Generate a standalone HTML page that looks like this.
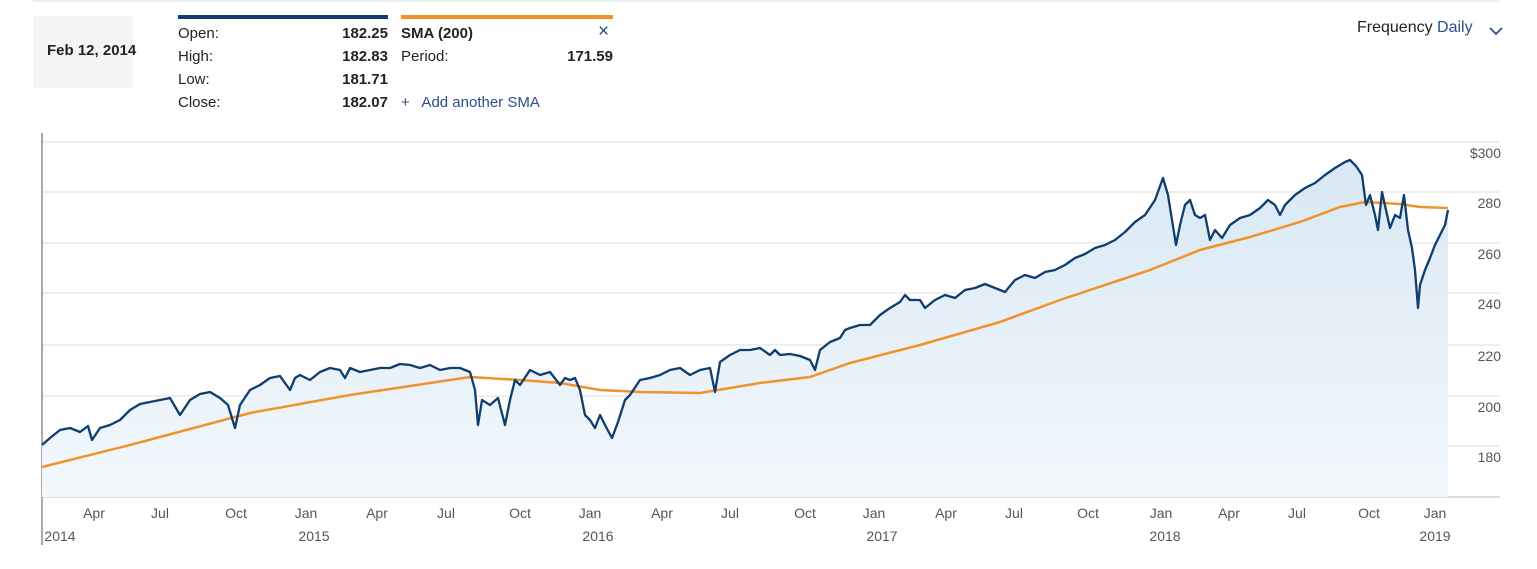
<!DOCTYPE html>
<html><head><style>
body{margin:0;width:1537px;height:569px;background:#fff;font-family:"Liberation Sans",sans-serif;position:relative;overflow:hidden;color:#222}
.a{position:absolute;font-size:15px}
</style></head><body>
<div style="position:absolute;left:33px;top:0;width:1467px;height:2px;background:#eee"></div>
<div style="position:absolute;left:33px;top:16px;width:100px;height:72px;background:#f4f4f4"></div>
<div class="a" style="left:47px;top:42px;font-weight:bold;font-size:15px">Feb 12, 2014</div>
<div style="position:absolute;left:178px;top:15px;width:210px;height:4px;background:#0f3d6e"></div>
<div style="position:absolute;left:401px;top:15px;width:212px;height:4px;background:#f0932b"></div>
<div class="a" style="left:178px;top:25px">Open:</div><div class="a" style="left:300px;width:88px;text-align:right;top:25px;font-weight:bold">182.25</div>
<div class="a" style="left:178px;top:48px">High:</div><div class="a" style="left:300px;width:88px;text-align:right;top:48px;font-weight:bold">182.83</div>
<div class="a" style="left:178px;top:71px">Low:</div><div class="a" style="left:300px;width:88px;text-align:right;top:71px;font-weight:bold">181.71</div>
<div class="a" style="left:178px;top:94px">Close:</div><div class="a" style="left:300px;width:88px;text-align:right;top:94px;font-weight:bold">182.07</div>
<div class="a" style="left:401px;top:25px;font-weight:bold">SMA (200)</div>
<div class="a" style="left:598px;top:21px;color:#2a4e8a;font-size:19px">×</div>
<div class="a" style="left:401px;top:48px">Period:</div><div class="a" style="left:520px;width:93px;text-align:right;top:48px;font-weight:bold">171.59</div>
<div class="a" style="left:401px;top:94px;color:#2a4e8a">+&nbsp;&nbsp; Add another SMA</div>
<div class="a" style="left:1357px;top:19px;font-size:16px">Frequency <span style="color:#2a4e8a">Daily</span></div>
<svg style="position:absolute;left:1488px;top:25px" width="16" height="12"><path d="M2 3 L8 9 L14 3" fill="none" stroke="#2a4e8a" stroke-width="1.8"/></svg>
<svg style="position:absolute;left:0;top:0" width="1537" height="569">
<defs><linearGradient id="g" x1="0" y1="0" x2="0" y2="1"><stop offset="0" stop-color="#d8e8f4"/><stop offset="1" stop-color="#f3f8fc"/></linearGradient></defs>
<g stroke="#e3e3e3" stroke-width="1.3">
<line x1="42" x2="1500" y1="142" y2="142"/><line x1="42" x2="1500" y1="192" y2="192"/><line x1="42" x2="1500" y1="243" y2="243"/><line x1="42" x2="1500" y1="293" y2="293"/><line x1="42" x2="1500" y1="345" y2="345"/><line x1="42" x2="1500" y1="396" y2="396"/><line x1="42" x2="1500" y1="446" y2="446"/></g>
<line x1="42" x2="1500" y1="497" y2="497" stroke="#bbb"/>
<line x1="42" x2="42" y1="133" y2="545" stroke="#555"/>
<g font-size="14" fill="#555" text-anchor="end" font-family="Liberation Sans,sans-serif">
<text x="1501" y="158">$300</text><text x="1501" y="208">280</text><text x="1501" y="259">260</text><text x="1501" y="309">240</text><text x="1501" y="361">220</text><text x="1501" y="412">200</text><text x="1501" y="462">180</text></g>
<g font-size="14" fill="#555" text-anchor="middle" font-family="Liberation Sans,sans-serif">
<text x="94" y="518">Apr</text><text x="160" y="518">Jul</text><text x="236" y="518">Oct</text><text x="306" y="518">Jan</text><text x="377" y="518">Apr</text><text x="446" y="518">Jul</text><text x="520" y="518">Oct</text><text x="590" y="518">Jan</text><text x="662" y="518">Apr</text><text x="730" y="518">Jul</text><text x="805" y="518">Oct</text><text x="874" y="518">Jan</text><text x="946" y="518">Apr</text><text x="1014" y="518">Jul</text><text x="1088" y="518">Oct</text><text x="1161" y="518">Jan</text><text x="1229" y="518">Apr</text><text x="1297" y="518">Jul</text><text x="1369" y="518">Oct</text><text x="1435" y="518">Jan</text>
<text x="60" y="541">2014</text><text x="314" y="541">2015</text><text x="598" y="541">2016</text><text x="882" y="541">2017</text><text x="1165" y="541">2018</text><text x="1435" y="541">2019</text></g>
<path id="p" fill="url(#g)" d="M42,497 L42,445 L50,438 L60,430 L70,428 L80,432 L88,426 L92,440 L100,428 L110,425 L120,420 L130,410 L140,404 L150,402 L160,400 L170,398 L180,415 L190,400 L200,394 L210,392 L220,398 L228,405 L235,428 L240,405 L250,390 L260,385 L270,378 L280,376 L290,390 L295,378 L300,375 L310,380 L320,372 L330,368 L340,370 L345,378 L350,368 L360,372 L370,370 L380,368 L390,368 L400,364 L410,365 L420,368 L430,365 L440,370 L450,368 L460,368 L470,372 L475,390 L478,425 L482,400 L490,405 L498,398 L505,425 L510,400 L515,380 L520,385 L530,370 L540,375 L550,372 L560,385 L565,378 L570,380 L575,378 L580,390 L585,415 L590,420 L595,428 L600,415 L605,425 L612,438 L618,422 L625,400 L630,395 L640,380 L650,378 L660,375 L670,370 L680,368 L690,375 L700,370 L710,368 L715,392 L720,362 L730,355 L740,350 L750,350 L760,348 L770,355 L775,350 L780,355 L790,354 L800,356 L810,360 L815,370 L820,350 L830,342 L840,338 L845,330 L850,328 L860,325 L870,325 L880,315 L890,308 L900,302 L905,295 L910,300 L920,300 L925,308 L935,300 L945,295 L955,298 L965,290 L975,288 L985,284 L995,288 L1005,292 L1015,280 L1025,275 L1035,278 L1045,272 L1055,270 L1065,265 L1075,258 L1085,254 L1095,248 L1105,245 L1115,240 L1125,232 L1135,222 L1145,215 L1155,200 L1163,178 L1168,195 L1172,220 L1176,245 L1180,225 L1185,205 L1190,200 L1195,215 L1200,218 L1205,215 L1210,240 L1215,230 L1222,238 L1230,225 L1240,218 L1250,215 L1260,208 L1268,200 L1275,205 L1280,215 L1285,205 L1295,195 L1305,188 L1315,183 L1325,175 L1335,168 L1345,162 L1350,160 L1356,166 L1362,175 L1366,205 L1370,195 L1375,215 L1378,230 L1382,192 L1386,210 L1390,228 L1395,215 L1400,218 L1404,195 L1408,230 L1412,248 L1415,270 L1418,308 L1420,285 L1425,270 L1430,258 L1435,245 L1440,235 L1445,225 L1448,210 L1448,497 Z"/>
<polyline fill="none" stroke="#f0932b" stroke-width="2.5" points="42,467 130,445 250,413 350,395 470,377 520,380 560,383 600,390 640,392 700,393 760,383 810,377 850,363 920,345 1000,322 1060,300 1150,270 1200,250 1250,237 1300,222 1340,207 1365,202 1400,204 1420,207 1448,208"/>
<polyline fill="none" stroke="#0f3d6e" stroke-width="2.3" stroke-linejoin="round" points="42,445 50,438 60,430 70,428 80,432 88,426 92,440 100,428 110,425 120,420 130,410 140,404 150,402 160,400 170,398 180,415 190,400 200,394 210,392 220,398 228,405 235,428 240,405 250,390 260,385 270,378 280,376 290,390 295,378 300,375 310,380 320,372 330,368 340,370 345,378 350,368 360,372 370,370 380,368 390,368 400,364 410,365 420,368 430,365 440,370 450,368 460,368 470,372 475,390 478,425 482,400 490,405 498,398 505,425 510,400 515,380 520,385 530,370 540,375 550,372 560,385 565,378 570,380 575,378 580,390 585,415 590,420 595,428 600,415 605,425 612,438 618,422 625,400 630,395 640,380 650,378 660,375 670,370 680,368 690,375 700,370 710,368 715,392 720,362 730,355 740,350 750,350 760,348 770,355 775,350 780,355 790,354 800,356 810,360 815,370 820,350 830,342 840,338 845,330 850,328 860,325 870,325 880,315 890,308 900,302 905,295 910,300 920,300 925,308 935,300 945,295 955,298 965,290 975,288 985,284 995,288 1005,292 1015,280 1025,275 1035,278 1045,272 1055,270 1065,265 1075,258 1085,254 1095,248 1105,245 1115,240 1125,232 1135,222 1145,215 1155,200 1163,178 1168,195 1172,220 1176,245 1180,225 1185,205 1190,200 1195,215 1200,218 1205,215 1210,240 1215,230 1222,238 1230,225 1240,218 1250,215 1260,208 1268,200 1275,205 1280,215 1285,205 1295,195 1305,188 1315,183 1325,175 1335,168 1345,162 1350,160 1356,166 1362,175 1366,205 1370,195 1375,215 1378,230 1382,192 1386,210 1390,228 1395,215 1400,218 1404,195 1408,230 1412,248 1415,270 1418,308 1420,285 1425,270 1430,258 1435,245 1440,235 1445,225 1448,210"/>
</svg>
</body></html>
